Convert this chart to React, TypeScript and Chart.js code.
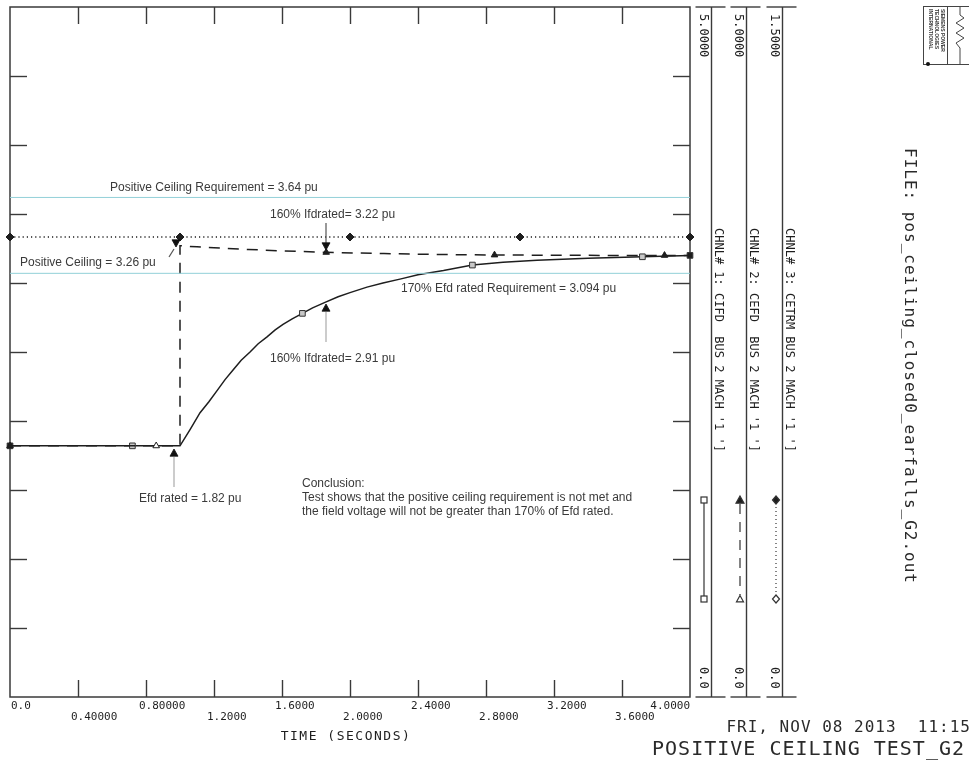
import React, { useEffect, useRef } from 'react';
import { Chart, registerables } from 'chart.js';
Chart.register(...registerables);

// ---- data ----
const timeCifd = [0, 0.72, 1.0, 1.06, 1.118, 1.17, 1.218, 1.265, 1.312, 1.36, 1.412, 1.46, 1.512, 1.56, 1.606, 1.66, 1.72, 1.78, 1.853, 1.93, 2.0, 2.1, 2.194, 2.3, 2.4, 2.55, 2.72, 2.9, 3.1, 3.4, 3.72, 4.0];
const cifd = [1.82, 1.82, 1.82, 1.94, 2.06, 2.14, 2.22, 2.30, 2.37, 2.44, 2.50, 2.56, 2.61, 2.66, 2.70, 2.74, 2.78, 2.82, 2.86, 2.90, 2.93, 2.97, 3.0, 3.03, 3.06, 3.09, 3.13, 3.15, 3.165, 3.18, 3.19, 3.2];
const cifdMarkerTimes = [0, 0.72, 1.72, 2.72, 3.72, 4.0];

const timeCefd = [0, 0.86, 1.0, 1.0, 1.1, 1.2, 1.4, 1.6, 1.86, 2.2, 2.5, 2.85, 3.2, 3.5, 3.85, 4.0];
const cefd = [1.82, 1.82, 1.82, 3.27, 3.262, 3.255, 3.243, 3.233, 3.222, 3.213, 3.207, 3.203, 3.201, 3.2, 3.2, 3.2];
const cefdMarkerTimes = [0, 0.86, 1.86, 2.85, 3.85];

const timeCetrm = [0, 1, 2, 3, 4];
const cetrm = [1, 1, 1, 1, 1];
const cetrmMarkerTimes = [0, 1, 2, 3, 4];

const ceilingReqLevel = 3.62;
const efdReqLevel = 3.07;

const xTicks = [0, 0.4, 0.8, 1.2, 1.6, 2.0, 2.4, 2.8, 3.2, 3.6, 4.0];
const xTickLabels = ['0.0', '0.40000', '0.80000', '1.2000', '1.6000', '2.0000', '2.4000', '2.8000', '3.2000', '3.6000', '4.0000'];
const yTicks = [0.5, 1, 1.5, 2, 2.5, 3, 3.5, 4, 4.5];

const channelLabels = [
  "CHNL# 1: CIFD  BUS 2 MACH '1 ']",
  "CHNL# 2: CEFD  BUS 2 MACH '1 ']",
  "CHNL# 3: CETRM BUS 2 MACH '1 ']",
];
const channelMax = ['5.0000', '5.0000', '1.5000'];
const channelMin = ['0.0', '0.0', '0.0'];

const xTitle = 'TIME (SECONDS)';
const dateText = 'FRI, NOV 08 2013  11:15';
const plotTitle = 'POSITIVE CEILING TEST_G2';
const fileText = 'FILE: pos_ceiling_closed0_earfalls_G2.out';

const annotationTexts = [
  'Positive Ceiling Requirement = 3.64 pu',
  '160% Ifdrated= 3.22 pu',
  'Positive Ceiling = 3.26 pu',
  '170% Efd rated Requirement = 3.094 pu',
  '160% Ifdrated= 2.91 pu',
  'Efd rated = 1.82 pu',
];
const conclusionLines = [
  'Conclusion:',
  'Test shows that the positive ceiling requirement is not met and',
  'the field voltage will not be greater than 170% of Efd rated.',
];

const INK = '#1e1e1e';
const MONO = '"DejaVu Sans Mono", monospace';
const SANS = '"Liberation Sans", Arial, sans-serif';

const isMark = (t: number, list: number[]) => list.some((m) => Math.abs(m - t) < 1e-6);

function line(ctx: CanvasRenderingContext2D, x1: number, y1: number, x2: number, y2: number) {
  ctx.beginPath();
  ctx.moveTo(x1, y1);
  ctx.lineTo(x2, y2);
  ctx.stroke();
}

function rotText(ctx: CanvasRenderingContext2D, text: string, x: number, y: number) {
  ctx.save();
  ctx.translate(x, y);
  ctx.rotate(Math.PI / 2);
  ctx.textAlign = 'left';
  ctx.textBaseline = 'middle';
  ctx.fillText(text, 0, 0);
  ctx.restore();
}

function tri(ctx: CanvasRenderingContext2D, x: number, y: number, up: boolean, fill: boolean, s = 4) {
  ctx.beginPath();
  if (up) {
    ctx.moveTo(x, y - s);
    ctx.lineTo(x + s, y + s * 0.8);
    ctx.lineTo(x - s, y + s * 0.8);
  } else {
    ctx.moveTo(x, y + s);
    ctx.lineTo(x + s, y - s * 0.8);
    ctx.lineTo(x - s, y - s * 0.8);
  }
  ctx.closePath();
  if (fill) ctx.fill();
  ctx.stroke();
}

const framePlugin = {
  id: 'psseFrame',
  beforeDatasetsDraw(chart: any) {
    const { ctx, chartArea: a, scales } = chart;
    const xs = scales.x;
    const ys = scales.y;
    ctx.save();
    ctx.strokeStyle = '#3a3a3a';
    ctx.lineWidth = 1.5;
    ctx.strokeRect(a.left, a.top, a.right - a.left, a.bottom - a.top);
    ctx.lineWidth = 1.4;
    xTicks.forEach((v) => {
      if (v <= 0 || v >= 4) return;
      const px = Math.round(xs.getPixelForValue(v)) + 0.5;
      line(ctx, px, a.top, px, a.top + 17);
      line(ctx, px, a.bottom, px, a.bottom - 17);
    });
    yTicks.forEach((v) => {
      const py = Math.round(ys.getPixelForValue(v)) + 0.5;
      line(ctx, a.left, py, a.left + 17, py);
      line(ctx, a.right, py, a.right - 17, py);
    });
    // x tick labels (staggered)
    ctx.fillStyle = INK;
    ctx.font = `11px ${MONO}`;
    ctx.textBaseline = 'middle';
    xTicks.forEach((v, i) => {
      const px = xs.getPixelForValue(v);
      const last = i === xTicks.length - 1;
      ctx.textAlign = last ? 'right' : 'left';
      const tx = last ? a.right : i === 0 ? px + 1 : px - 7;
      ctx.fillText(xTickLabels[i], tx, i % 2 === 0 ? a.bottom + 9 : a.bottom + 20);
    });
    ctx.font = `13px ${MONO}`;
    (ctx as any).letterSpacing = '1.5px';
    ctx.textAlign = 'center';
    ctx.fillText(xTitle, 346, 737);
    (ctx as any).letterSpacing = '0px';

    // channel strips
    const stripX = [a.right + 21, a.right + 56, a.right + 92];
    ctx.lineWidth = 1.4;
    ctx.strokeStyle = '#3a3a3a';
    stripX.forEach((sx, i) => {
      const lx = Math.round(sx) + 0.5;
      line(ctx, lx, a.top, lx, a.bottom);
      line(ctx, lx - 16, a.top, lx + 14, a.top);
      line(ctx, lx - 16, a.bottom, lx + 14, a.bottom);
      ctx.font = `12px ${MONO}`;
      ctx.fillStyle = INK;
      rotText(ctx, channelMax[i], sx - 8, a.top + 7);
      rotText(ctx, channelMin[i], sx - 8, a.bottom - 30);
      rotText(ctx, channelLabels[i], sx + 7, 228);
    });
    // legend samples
    ctx.fillStyle = INK;
    ctx.strokeStyle = '#333';
    ctx.lineWidth = 1.2;
    const top = 500;
    const bot = 599;
    // ch1
    let lx = stripX[0] - 7;
    line(ctx, lx, top + 3, lx, bot - 3);
    ctx.fillStyle = '#ccc';
    ctx.strokeRect(lx - 3, top - 3, 6, 6);
    ctx.strokeRect(lx - 3, bot - 3, 6, 6);
    // ch2
    lx = stripX[1] - 6;
    ctx.setLineDash([10, 8]);
    line(ctx, lx, top + 4, lx, bot - 4);
    ctx.setLineDash([]);
    ctx.fillStyle = INK;
    tri(ctx, lx, top, true, true, 4);
    ctx.fillStyle = '#fff';
    tri(ctx, lx, bot, true, true, 3.5);
    // ch3
    lx = stripX[2] - 6;
    ctx.setLineDash([1, 3]);
    line(ctx, lx, top + 3, lx, bot - 3);
    ctx.setLineDash([]);
    ctx.fillStyle = INK;
    ctx.beginPath();
    ctx.moveTo(lx, top - 4); ctx.lineTo(lx + 3.5, top); ctx.lineTo(lx, top + 4); ctx.lineTo(lx - 3.5, top); ctx.closePath();
    ctx.fill(); ctx.stroke();
    ctx.fillStyle = '#fff';
    ctx.beginPath();
    ctx.moveTo(lx, bot - 4); ctx.lineTo(lx + 3.5, bot); ctx.lineTo(lx, bot + 4); ctx.lineTo(lx - 3.5, bot); ctx.closePath();
    ctx.fill(); ctx.stroke();

    // file name
    ctx.fillStyle = '#2a2a2a';
    ctx.font = `16px ${MONO}`;
    (ctx as any).letterSpacing = '1px';
    rotText(ctx, fileText, 909, 148);
    // date & title
    ctx.textAlign = 'right';
    ctx.textBaseline = 'middle';
    ctx.font = `16px ${MONO}`;
    ctx.fillText(dateText, 971, 728);
    ctx.font = `20px ${MONO}`;
    ctx.fillText(plotTitle, 965, 750);
    (ctx as any).letterSpacing = '0px';

    // logo
    ctx.strokeStyle = '#444';
    ctx.lineWidth = 1;
    ctx.strokeRect(923.5, 6.5, 50, 58);
    line(ctx, 947.5, 6.5, 947.5, 64.5);
    ctx.font = `bold 5px ${SANS}`;
    ctx.fillStyle = '#333';
    rotText(ctx, 'SIEMENS POWER', 942, 9);
    rotText(ctx, 'TECHNOLOGIES', 936, 9);
    rotText(ctx, 'INTERNATIONAL', 930, 9);
    ctx.beginPath();
    ctx.moveTo(960, 6.5);
    ctx.lineTo(960, 15);
    for (let k = 0; k < 6; k++) ctx.lineTo(k % 2 === 0 ? 964 : 956, 18 + k * 5);
    ctx.lineTo(960, 48);
    ctx.lineTo(960, 64.5);
    ctx.stroke();
    ctx.beginPath();
    ctx.arc(928, 64, 2, 0, Math.PI * 2);
    ctx.fillStyle = '#111';
    ctx.fill();
    ctx.restore();
  },
  afterDatasetsDraw(chart: any) {
    const { ctx } = chart;
    ctx.save();
    ctx.fillStyle = '#3a3a3a';
    ctx.font = `12px ${SANS}`;
    ctx.textAlign = 'left';
    ctx.textBaseline = 'middle';
    const pos = [
      [110, 188],
      [270, 215],
      [20, 263],
      [401, 289],
      [270, 359],
      [139, 499],
    ];
    annotationTexts.forEach((t, i) => ctx.fillText(t, pos[i][0], pos[i][1]));
    conclusionLines.forEach((t, i) => ctx.fillText(t, 302, 484 + i * 14));

    // arrows
    ctx.fillStyle = '#111';
    ctx.strokeStyle = '#aaa';
    ctx.lineWidth = 1.2;
    line(ctx, 174, 457, 174, 487);
    line(ctx, 326, 312, 326, 342);
    ctx.strokeStyle = '#555';
    line(ctx, 326, 223, 326, 243);
    line(ctx, 169, 257, 174, 249);
    ctx.strokeStyle = '#111';
    ctx.lineWidth = 0.8;
    tri(ctx, 174, 453, true, true, 4);
    tri(ctx, 326, 308, true, true, 4);
    tri(ctx, 326, 246, false, true, 4);
    tri(ctx, 176, 243, false, true, 4);
    ctx.restore();
  },
};

export default function App() {
  const ref = useRef<HTMLCanvasElement>(null);
  useEffect(() => {
    document.body.style.margin = '0';
    const canvas = ref.current!;
    const mk = (ts: number[], vs: number[]) => ts.map((t, i) => ({ x: t, y: vs[i] }));
    const chart = new Chart(canvas, {
      type: 'line',
      data: {
        datasets: [
          {
            label: 'ceiling requirement',
            data: [{ x: 0, y: ceilingReqLevel }, { x: 4, y: ceilingReqLevel }],
            borderColor: '#92d0d8',
            borderWidth: 1,
            pointRadius: 0,
            yAxisID: 'y',
          },
          {
            label: 'efd requirement',
            data: [{ x: 0, y: efdReqLevel }, { x: 4, y: efdReqLevel }],
            borderColor: '#92d0d8',
            borderWidth: 1,
            pointRadius: 0,
            yAxisID: 'y',
          },
          {
            label: 'CETRM',
            data: mk(timeCetrm, cetrm),
            yAxisID: 'y3',
            borderColor: INK,
            borderWidth: 1.5,
            borderDash: [1.2, 3],
            pointStyle: 'rectRot',
            pointRadius: (c: any) => (isMark(timeCetrm[c.dataIndex], cetrmMarkerTimes) ? 4 : 0),
            pointBackgroundColor: INK,
            pointBorderColor: INK,
            pointBorderWidth: 1,
            clip: false,
          },
          {
            label: 'CEFD',
            data: mk(timeCefd, cefd),
            yAxisID: 'y',
            borderColor: INK,
            borderWidth: 1.5,
            borderDash: [11, 8],
            pointStyle: 'triangle',
            pointRadius: (c: any) => (isMark(timeCefd[c.dataIndex], cefdMarkerTimes) ? 3.8 : 0),
            pointBackgroundColor: (c: any) => (timeCefd[c.dataIndex] === 0.86 ? '#fff' : INK),
            pointBorderColor: INK,
            pointBorderWidth: 1,
            clip: false,
          },
          {
            label: 'CIFD',
            data: mk(timeCifd, cifd),
            yAxisID: 'y',
            borderColor: INK,
            borderWidth: 1.5,
            pointStyle: 'rect',
            pointRadius: (c: any) => (isMark(timeCifd[c.dataIndex], cifdMarkerTimes) ? 4 : 0),
            pointBackgroundColor: (c: any) => {
              const t = timeCifd[c.dataIndex];
              return t === 0 || t === 4 ? INK : '#c8c8c8';
            },
            pointBorderColor: '#333',
            pointBorderWidth: 1,
            clip: false,
          },
        ],
      },
      options: {
        responsive: false,
        animation: false,
        devicePixelRatio: 1,
        layout: { padding: { left: 10, top: 7, right: 279, bottom: 69 } },
        plugins: { legend: { display: false }, tooltip: { enabled: false } },
        elements: { line: { tension: 0 } },
        scales: {
          x: { type: 'linear', min: 0, max: 4, display: false },
          y: { type: 'linear', min: 0, max: 5, display: false },
          y3: { type: 'linear', min: 0, max: 1.5, display: false },
        },
      },
      plugins: [framePlugin],
    } as any);
    return () => chart.destroy();
  }, []);
  return (
    <div style={{ position: 'absolute', left: 0, top: 0, width: 969, height: 766, background: '#fff' }}>
      <canvas ref={ref} width={969} height={766} style={{ display: 'block' }} />
    </div>
  );
}
